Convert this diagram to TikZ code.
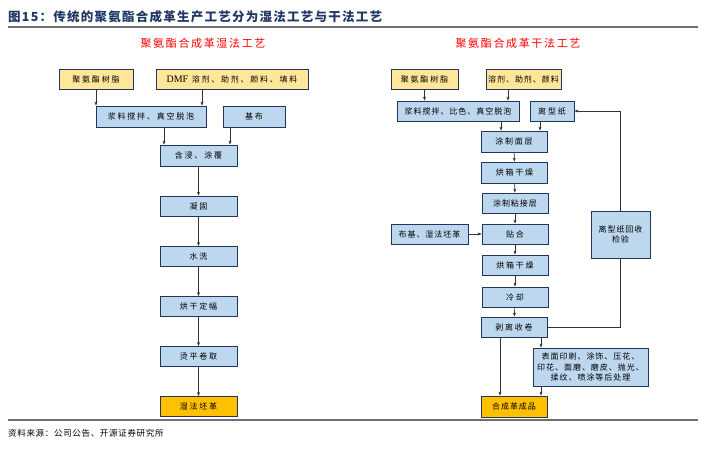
\documentclass[tikz,border=0pt]{standalone}
\usepackage{fontspec}
\setmainfont{Noto Sans CJK SC}
\newfontfamily\boxcjk[LetterSpace=22]{Noto Sans CJK SC}
\newfontfamily\tightcjk[LetterSpace=12]{Noto Sans CJK SC}
\newfontfamily\headcjk[LetterSpace=15]{Noto Sans CJK SC}
\newfontfamily\titlecjk[LetterSpace=10]{Noto Sans CJK SC}
\newfontfamily\srccjk[LetterSpace=8]{Noto Sans CJK SC}
\newfontfamily\dmffont{Liberation Serif}
\usetikzlibrary{arrows.meta,calc}
\definecolor{lblue}{HTML}{BDD7EE}
\definecolor{navy}{HTML}{22365C}
\definecolor{lyel}{HTML}{FFE699}
\definecolor{orng}{HTML}{FFC000}
\definecolor{tblue}{HTML}{1F3864}
\definecolor{rulegray}{HTML}{707070}
\definecolor{arrgray}{HTML}{333333}
\tikzset{
  x=1pt,y=-1pt,
  base/.style={draw=navy, line width=0.8pt, inner sep=1pt, font=\boxcjk\fontsize{8}{11}\selectfont, align=center, text=black},
  bluebox/.style={base, fill=lblue},
  yelbox/.style={base, fill=lyel},
  orbox/.style={base, fill=orng},
  tighttext/.style={font=\tightcjk\fontsize{8}{10.5}\selectfont},
  flow/.style={draw=arrgray, line width=0.6pt, -{Stealth[length=4pt,width=3pt]}},
  plain/.style={draw=arrgray, line width=0.6pt},
  heading/.style={text=red, font=\headcjk\fontsize{11}{13}\selectfont},
}
\begin{document}
\begin{tikzpicture}
\useasboundingbox (0,0) rectangle (706,454);
% title and rules
\node[anchor=west, inner sep=0, text=tblue, font=\titlecjk\bfseries\fontsize{12.5}{14}\selectfont] (title) at (8,17) {图15：传统的聚氨酯合成革生产工艺分为湿法工艺与干法工艺};
\coordinate (r1a) at (8,27); \coordinate (r1b) at (698,27);
\coordinate (r2a) at (8,420); \coordinate (r2b) at (698,420);
\draw[rulegray, line width=1.1pt] (r1a) -- (r1b);
\draw[rulegray, line width=1.1pt] (r2a) -- (r2b);
\node[anchor=west, inner sep=0, font=\srccjk\fontsize{8.5}{11}\selectfont] (src) at (8,433) {资料来源：公司公告、开源证券研究所};
% headings
\node[heading] (hl) at (203,43) {聚氨酯合成革湿法工艺};
\node[heading] (hr) at (518,43) {聚氨酯合成革干法工艺};
% ---------- left: wet process ----------
\node[yelbox, minimum width=74, minimum height=20] (L1) at (96,79) {聚氨酯树脂};
\node[yelbox, minimum width=152, minimum height=20] (L2) at (232,79) {{\dmffont\fontsize{10}{11}\selectfont DMF} 溶剂、助剂、颜料、填料};
\node[bluebox, minimum width=110, minimum height=21] (L3) at (151,116.5) {浆料搅拌、真空脱泡};
\node[bluebox, minimum width=62, minimum height=21] (L4) at (254,116.5) {基布};
\node[bluebox, minimum width=77, minimum height=21] (L5) at (198.5,155.5) {含浸、涂覆};
\node[bluebox, minimum width=77, minimum height=20] (L6) at (198.5,206) {凝固};
\node[bluebox, minimum width=77, minimum height=20] (L7) at (198.5,256.5) {水洗};
\node[bluebox, minimum width=77, minimum height=20] (L8) at (198.5,306.5) {烘干定幅};
\node[bluebox, minimum width=77, minimum height=20] (L9) at (198.5,356.5) {烫平卷取};
\node[orbox, minimum width=77, minimum height=20] (L10) at (198.5,406.5) {湿法坯革};
\draw[flow] (L1.south) -- (L1.south |- L3.north);
\draw[flow] ([xshift=-30pt]L2.south) -- ([xshift=-30pt]L2.south |- L3.north);
\draw[flow] ([xshift=13pt]L3.south) -- ([xshift=13pt]L3.south |- L5.north);
\draw[flow] ([xshift=-24pt]L4.south) -- ([xshift=-24pt]L4.south |- L5.north);
\draw[flow] (L5) -- (L6);
\draw[flow] (L6) -- (L7);
\draw[flow] (L7) -- (L8);
\draw[flow] (L8) -- (L9);
\draw[flow] (L9) -- (L10);
% ---------- right: dry process ----------
\node[yelbox, minimum width=67, minimum height=20] (R1) at (424.5,79) {聚氨酯树脂};
\node[yelbox, minimum width=75, minimum height=20, tighttext] (R2) at (523.5,79) {溶剂、助剂、颜料};
\node[bluebox, minimum width=122, minimum height=20, tighttext] (R3) at (458,111) {浆料搅拌、比色、真空脱泡};
\node[bluebox, minimum width=44, minimum height=20] (R4) at (552,111) {离型纸};
\node[bluebox, minimum width=66, minimum height=21] (R5) at (514,141.5) {涂制面层};
\node[bluebox, minimum width=66, minimum height=21] (R6) at (514.5,172.5) {烘箱干燥};
\node[bluebox, minimum width=66, minimum height=20, tighttext] (R7) at (515,203) {涂制粘接层};
\node[bluebox, minimum width=77, minimum height=20, tighttext] (R8) at (429.5,234) {布基、湿法坯革};
\node[bluebox, minimum width=66, minimum height=20] (R9) at (515,234) {贴合};
\node[bluebox, minimum width=66, minimum height=20] (R10) at (515,265) {烘箱干燥};
\node[bluebox, minimum width=66, minimum height=20] (R11) at (515,297) {冷却};
\node[bluebox, minimum width=66, minimum height=20] (R12) at (514,327) {剥离收卷};
\node[bluebox, minimum width=59, minimum height=47, tighttext] (R13) at (620.5,234.5) {离型纸回收\\检验};
\node[bluebox, minimum width=115, minimum height=38, tighttext] (R14) at (590.5,367) {表面印刷、涂饰、压花、\\印花、面磨、磨皮、抛光、\\揉纹、喷涂等后处理};
\node[orbox, minimum width=66, minimum height=21, tighttext] (R15) at (514,406.5) {合成革成品};
\draw[flow] (R1.south) -- (R1.south |- R3.north);
\draw[flow] ([xshift=-15.5pt]R2.south) -- ([xshift=-15.5pt]R2.south |- R3.north);
\draw[flow] ([xshift=43pt]R3.south) -- ([xshift=43pt]R3.south |- R5.north);
\draw[flow] ([xshift=-12pt]R4.south) -- ([xshift=-12pt]R4.south |- R5.north);
\draw[flow] (R5) -- (R6);
\draw[flow] (R6) -- (R7);
\draw[flow] (R7) -- (R9);
\draw[flow] (R8) -- (R9);
\draw[flow] (R9) -- (R10);
\draw[flow] (R10) -- (R11);
\draw[flow] (R11) -- (R12);
\draw[flow] ([xshift=-14pt]R12.south) -- ([xshift=-14pt]R12.south |- R15.north);
\draw[flow] ([xshift=27pt]R12.south) -- ([xshift=27pt]R12.south |- R14.north);
\draw[flow] ([xshift=-49.5pt]R14.south) -- ([xshift=-49.5pt]R14.south |- R15.north);
\draw[plain] (R12.east) -| (R13.south);
\draw[flow] (R13.north) |- (R4.east);
\end{tikzpicture}
\end{document}
